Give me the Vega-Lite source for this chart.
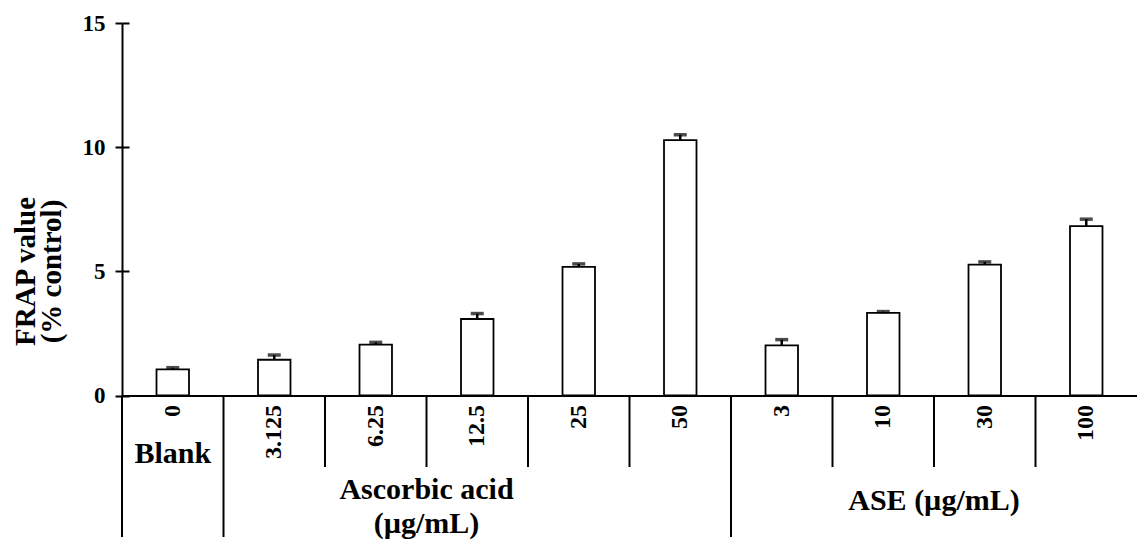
{
  "$schema": "https://vega.github.io/schema/vega-lite/v6.json",
  "width": 1015,
  "height": 372.5,
  "autosize": {"type": "none"},
  "padding": {"left": 122, "top": 23, "right": 0, "bottom": 148.5},
  "background": "white",
  "config": {"view": {"stroke": null}, "font": "Liberation Serif"},
  "datasets": {
    "bars": [
      {"dose": "0", "group": "Blank", "value": 1.05, "upper": 1.12},
      {"dose": "3.125", "group": "Ascorbic acid", "value": 1.44, "upper": 1.63},
      {"dose": "6.25", "group": "Ascorbic acid", "value": 2.05, "upper": 2.14},
      {"dose": "12.5", "group": "Ascorbic acid", "value": 3.08, "upper": 3.3},
      {"dose": "25", "group": "Ascorbic acid", "value": 5.18, "upper": 5.3},
      {"dose": "50", "group": "Ascorbic acid", "value": 10.28, "upper": 10.5},
      {"dose": "3", "group": "ASE", "value": 2.02, "upper": 2.25},
      {"dose": "10", "group": "ASE", "value": 3.33, "upper": 3.38},
      {"dose": "30", "group": "ASE", "value": 5.27, "upper": 5.38},
      {"dose": "100", "group": "ASE", "value": 6.82, "upper": 7.1}
    ],
    "seps": [
      {"dose": "0", "kind": "long"},
      {"dose": "3.125", "kind": "long"},
      {"dose": "6.25", "kind": "short"},
      {"dose": "12.5", "kind": "short"},
      {"dose": "25", "kind": "short"},
      {"dose": "50", "kind": "short"},
      {"dose": "3", "kind": "long"},
      {"dose": "10", "kind": "short"},
      {"dose": "30", "kind": "short"},
      {"dose": "100", "kind": "short"}
    ],
    "groups": [
      {"group": "Blank", "anchor": "0", "label": "Blank"},
      {"group": "Ascorbic acid", "anchor": "12.5", "label": "Ascorbic acid\n(µg/mL)"},
      {"group": "ASE", "anchor": "30", "label": "ASE (µg/mL)"}
    ]
  },
  "resolve": {"axis": {"y": "independent"}},
  "layer": [
    {
      "data": {"name": "bars"},
      "mark": {"type": "bar", "fill": "white", "stroke": "black", "strokeWidth": 1.8, "width": {"band": 0.32}},
      "encoding": {
        "x": {
          "field": "dose", "type": "nominal", "sort": null,
          "scale": {"domain": ["0", "3.125", "6.25", "12.5", "25", "50", "3", "10", "30", "100"], "paddingInner": 0, "paddingOuter": 0},
          "axis": {
            "title": null, "ticks": false, "domainColor": "black", "domainWidth": 2,
            "labelAngle": -90, "labelFont": "Liberation Serif", "labelFontWeight": "bold",
            "labelFontSize": 24, "labelColor": "black", "labelPadding": 9
          }
        },
        "y": {
          "field": "value", "type": "quantitative",
          "scale": {"domain": [0, 15], "nice": false, "zero": false},
          "axis": {
            "orient": "left", "values": [0, 5, 10, 15], "grid": false,
            "domainColor": "black", "domainWidth": 2,
            "tickColor": "black", "tickWidth": 2, "tickSize": 7,
            "labelFont": "Liberation Serif", "labelFontWeight": "bold", "labelFontSize": 23,
            "labelColor": "black", "labelPadding": 10,
            "title": ["FRAP value", "(% control)"],
            "titleFont": "Liberation Serif", "titleFontWeight": "bold", "titleFontSize": 29,
            "titleColor": "black", "titleAngle": 270, "titleX": -88, "titleY": 248,
            "titleAlign": "center", "titleBaseline": "alphabetic", "titleLineHeight": 26
          }
        },
        "y2": {"datum": 0}
      }
    },
    {
      "data": {"name": "bars"},
      "mark": {"type": "rule", "color": "black", "strokeWidth": 2.5},
      "encoding": {
        "x": {"field": "dose", "type": "nominal", "sort": null},
        "y": {
          "field": "value", "type": "quantitative",
          "axis": {
            "orient": "left", "offset": -7, "domain": false, "labels": false, "title": null,
            "grid": false, "values": [0, 5, 10, 15], "tickColor": "black", "tickWidth": 2, "tickSize": 7
          }
        },
        "y2": {"field": "upper"}
      }
    },
    {
      "data": {"name": "bars"},
      "mark": {"type": "tick", "color": "black", "size": 13, "thickness": 3.5, "orient": "horizontal"},
      "encoding": {
        "x": {"field": "dose", "type": "nominal", "sort": null},
        "y": {"field": "upper", "type": "quantitative", "axis": null}
      }
    },
    {
      "data": {"name": "seps"},
      "transform": [{"filter": "datum.kind == 'long'"}],
      "mark": {"type": "rule", "color": "black", "strokeWidth": 2},
      "encoding": {
        "x": {"field": "dose", "type": "nominal", "sort": null, "bandPosition": 0},
        "y": {"datum": 0, "type": "quantitative", "axis": null},
        "y2": {"datum": -5.7}
      }
    },
    {
      "data": {"name": "seps"},
      "transform": [{"filter": "datum.kind == 'short'"}],
      "mark": {"type": "rule", "color": "black", "strokeWidth": 2},
      "encoding": {
        "x": {"field": "dose", "type": "nominal", "sort": null, "bandPosition": 0},
        "y": {"datum": 0, "type": "quantitative", "axis": null},
        "y2": {"datum": -2.88}
      }
    },
    {
      "data": {"name": "groups"},
      "transform": [{"filter": "datum.group == 'Blank'"}],
      "mark": {"type": "text", "font": "Liberation Serif", "fontWeight": "bold", "fontSize": 30, "color": "black", "align": "center", "baseline": "alphabetic"},
      "encoding": {
        "x": {"field": "anchor", "type": "nominal", "sort": null, "bandPosition": 0.5},
        "y": {"datum": -2.72, "type": "quantitative", "axis": null},
        "text": {"field": "label"}
      }
    },
    {
      "data": {"name": "groups"},
      "transform": [{"filter": "datum.group == 'Ascorbic acid'"}],
      "mark": {"type": "text", "font": "Liberation Serif", "fontWeight": "bold", "fontSize": 30, "color": "black", "align": "center", "baseline": "alphabetic", "lineBreak": "\n", "lineHeight": 34},
      "encoding": {
        "x": {"field": "anchor", "type": "nominal", "sort": null, "bandPosition": 0},
        "y": {"datum": -4.17, "type": "quantitative", "axis": null},
        "text": {"field": "label"}
      }
    },
    {
      "data": {"name": "groups"},
      "transform": [{"filter": "datum.group == 'ASE'"}],
      "mark": {"type": "text", "font": "Liberation Serif", "fontWeight": "bold", "fontSize": 30, "color": "black", "align": "center", "baseline": "alphabetic"},
      "encoding": {
        "x": {"field": "anchor", "type": "nominal", "sort": null, "bandPosition": 0},
        "y": {"datum": -4.61, "type": "quantitative", "axis": null},
        "text": {"field": "label"}
      }
    }
  ]
}
